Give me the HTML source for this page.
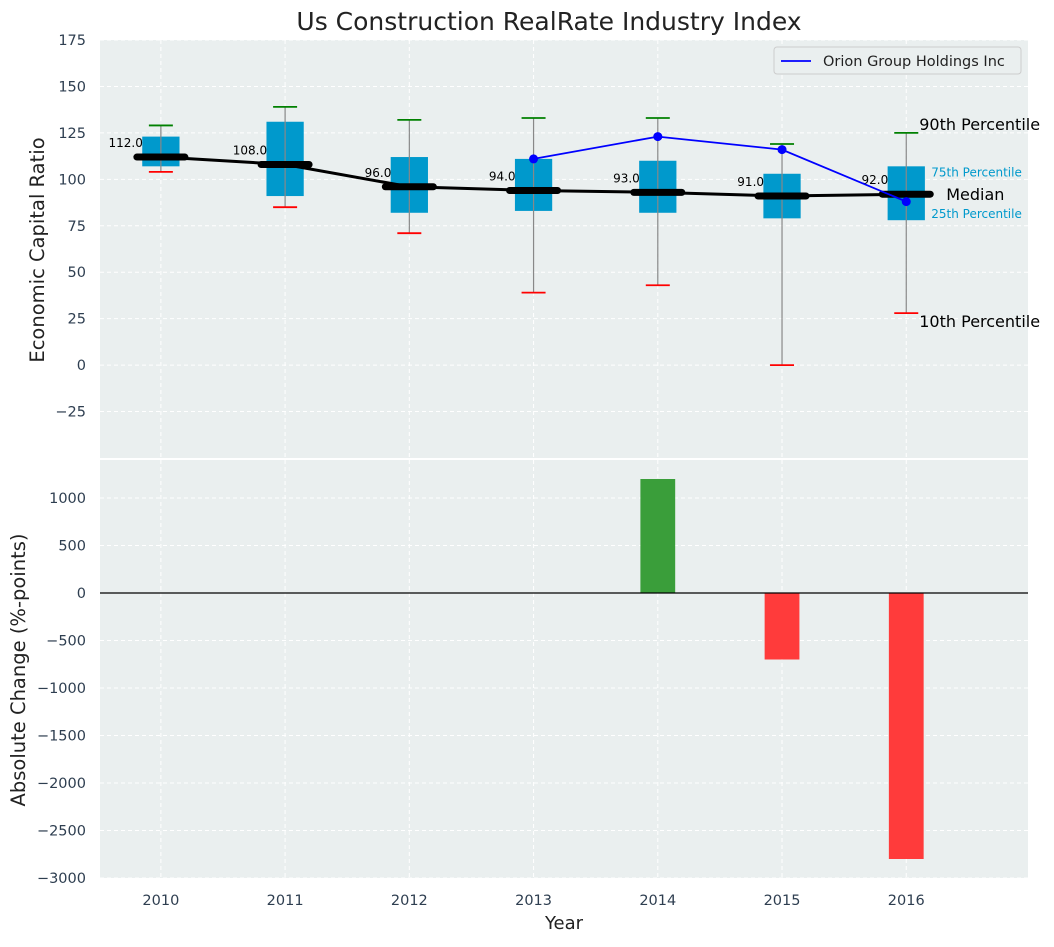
<!DOCTYPE html>
<html><head><meta charset="utf-8"><style>
body{margin:0;background:#fff;font-family:"Liberation Sans","DejaVu Sans",sans-serif;}
svg text{font-family:"DejaVu Sans","Liberation Sans",sans-serif;}
</style></head><body>
<svg id="chart" width="1054" height="942" xmlns="http://www.w3.org/2000/svg"></svg>
<script>
const years=[2010,2011,2012,2013,2014,2015,2016];
const q1=[107,91,82,83,82,79,78];
const q3=[123,131,112,111,110,103,107];
const p10=[104,85,71,39,43,0,28];
const p90=[129,139,132,133,133,119,125];
const medians=[112,108,96,94,93,91,92];
const orionYears=[2013,2014,2015,2016];
const orionVals=[111,123,116,88];
const changeYears=[2014,2015,2016];
const changeVals=[1200,-700,-2800];
const topTicks=[-25,0,25,50,75,100,125,150,175];
const botTicks=[-3000,-2500,-2000,-1500,-1000,-500,0,500,1000];

const NS='http://www.w3.org/2000/svg';
const svg=document.getElementById('chart');
function el(tag,attrs,parent){const e=document.createElementNS(NS,tag);for(const k in attrs)e.setAttribute(k,attrs[k]);(parent||svg).appendChild(e);return e;}
const L=100,R=1028,T1=40,B1=458,T2=460,B2=878;
const x=v=>L+(v-2009.51)/(2016.98-2009.51)*(R-L);
const y1=v=>T1+(175-v)/(175+50)*(B1-T1);
const y2=v=>T2+(1400-v)/(1400+3000)*(B2-T2);
const pxU=(R-L)/7.47;

let bg=el('rect',{x:L,y:T1,width:R-L,height:B1-T1,fill:'#eaefef'});

let bg2=el('rect',{x:L,y:T2,width:R-L,height:B2-T2,fill:'#eaefef'});


years.forEach(yr=>{el('line',{x1:x(yr),x2:x(yr),y1:T1,y2:B1,stroke:'#fff','stroke-dasharray':'4,3','stroke-width':1});
 el('line',{x1:x(yr),x2:x(yr),y1:T2,y2:B2,stroke:'#fff','stroke-dasharray':'4,3','stroke-width':1});
 const t=el('text',{x:x(yr),y:905,'text-anchor':'middle','font-size':14.5,fill:'#2e3e50'});t.textContent=yr;
 });
topTicks.forEach(v=>{el('line',{x1:L,x2:R,y1:y1(v),y2:y1(v),stroke:'#fff','stroke-dasharray':'4,3'});
 const t=el('text',{x:86,y:y1(v)+5,'text-anchor':'end','font-size':14.5,fill:'#2e3e50'});t.textContent=v<0?'\u2212'+(-v):v;
 });
botTicks.forEach(v=>{el('line',{x1:L,x2:R,y1:y2(v),y2:y2(v),stroke:'#fff','stroke-dasharray':'4,3'});
 const t=el('text',{x:86,y:y2(v)+5,'text-anchor':'end','font-size':14.5,fill:'#2e3e50'});t.textContent=v<0?'\u2212'+(-v):v;
 });

years.forEach((yr,i)=>{const cx=x(yr),bw=0.3*pxU;
 const b=el('rect',{x:cx-bw/2,y:y1(q3[i]),width:bw,height:y1(q1[i])-y1(q3[i]),fill:'#0099cc'});
 
 el('line',{x1:cx,x2:cx,y1:y1(p90[i]),y2:y1(p10[i]),stroke:'#888','stroke-width':1.2});
 el('line',{x1:cx-12,x2:cx+12,y1:y1(p90[i]),y2:y1(p90[i]),stroke:'green','stroke-width':1.8});
 el('line',{x1:cx-12,x2:cx+12,y1:y1(p10[i]),y2:y1(p10[i]),stroke:'red','stroke-width':1.8});
});
el('polyline',{points:years.map((yr,i)=>x(yr)+','+y1(medians[i])).join(' '),fill:'none',stroke:'#000','stroke-width':3});
years.forEach((yr,i)=>{const cx=x(yr);
 const m=el('line',{x1:cx-24,x2:cx+24,y1:y1(medians[i]),y2:y1(medians[i]),stroke:'#000','stroke-width':7,'stroke-linecap':'round'});
 
 const t=el('text',{x:cx-18,y:y1(medians[i])-10,'text-anchor':'end','font-size':12,fill:'#000'});t.textContent=medians[i].toFixed(1);
 });
const ol=el('polyline',{points:orionYears.map((yr,i)=>x(yr)+','+y1(orionVals[i])).join(' '),fill:'none',stroke:'#0000ff','stroke-width':1.8});

orionYears.forEach((yr,i)=>{const c=el('circle',{cx:x(yr),cy:y1(orionVals[i]),r:4.5,fill:'#0000ff'});
 });
const lx=x(2016);
[['90th Percentile',p90[6],16,'#000',lx+13,-3],['10th Percentile',p10[6],16,'#000',lx+13,14],['Median',medians[6],16,'#000',lx+40,6],
 ['75th Percentile',q3[6],12,'#0099cc',lx+25,10],['25th Percentile',q1[6],12,'#0099cc',lx+25,-2]].forEach(a=>{
 const t=el('text',{x:a[4],y:y1(a[1])+a[5],'font-size':a[2],fill:a[3]});t.textContent=a[0];
 });
const lg=el('g',{});
el('rect',{x:774,y:47,width:247,height:27,rx:3,fill:'#eaefef',stroke:'#ccc'},lg);
el('line',{x1:781,x2:811,y1:61,y2:61,stroke:'#0000ff','stroke-width':1.8},lg);
const lt=el('text',{x:823,y:66,'font-size':14.5,fill:'#222'},lg);lt.textContent='Orion Group Holdings Inc';
changeYears.forEach((yr,i)=>{const v=changeVals[i],bw=0.28*pxU;
 const r=el('rect',{x:x(yr)-bw/2,y:Math.min(y2(v),y2(0)),width:bw,height:Math.abs(y2(v)-y2(0)),fill:v>=0?'#3a9e3a':'#ff3b3b'});
 });
el('line',{x1:L,x2:R,y1:y2(0),y2:y2(0),stroke:'#000','stroke-width':1.2});
let tt=el('text',{x:549,y:30,'text-anchor':'middle','font-size':25,fill:'#222'});tt.textContent='Us Construction RealRate Industry Index';

let xt=el('text',{x:564,y:929,'text-anchor':'middle','font-size':18,fill:'#222'});xt.textContent='Year';

let yt=el('text',{x:44,y:250,'text-anchor':'middle','font-size':19.5,fill:'#222',transform:'rotate(-90 44 250)'});yt.textContent='Economic Capital Ratio';

let yt2=el('text',{x:25,y:670,'text-anchor':'middle','font-size':19.5,fill:'#222',transform:'rotate(-90 25 670)'});yt2.textContent='Absolute Change (%-points)';

</script>
</body></html>
